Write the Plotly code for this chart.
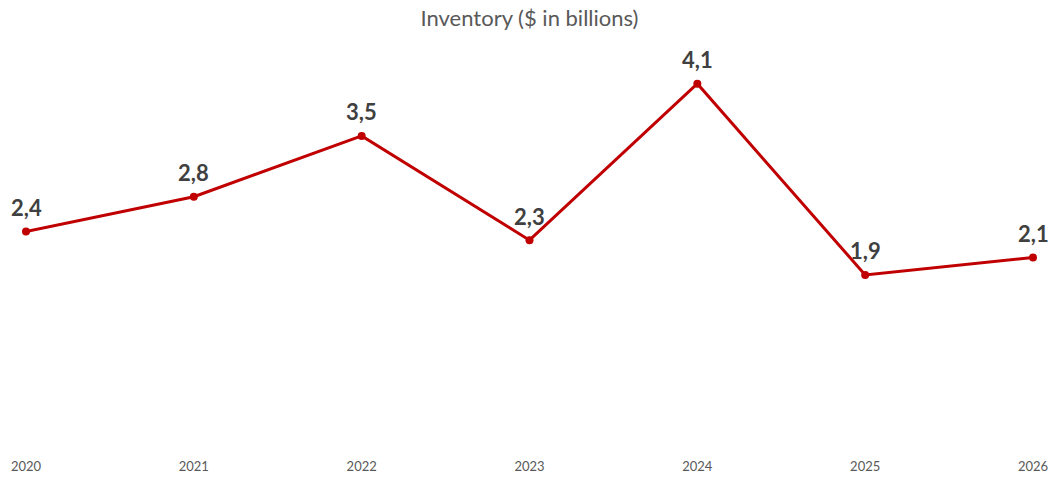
import plotly.graph_objects as go

years = [2020, 2021, 2022, 2023, 2024, 2025, 2026]
inventory = [2.4, 2.8, 3.5, 2.3, 4.1, 1.9, 2.1]
labels = [f"{v:.1f}".replace(".", ",") for v in inventory]

FONT = "Lato, 'Open Sans', sans-serif"

fig = go.Figure(
    go.Scatter(
        x=years,
        y=inventory,
        mode="lines+markers",
        line=dict(color="#C00000", width=3),
        marker=dict(color="#C00000", size=8),
        cliponaxis=False,
        hoverinfo="skip",
    )
)

# value labels above each point
for x, y, t in zip(years, inventory, labels):
    fig.add_annotation(
        x=x, y=y, text=t,
        showarrow=False,
        xanchor="center", yanchor="middle",
        yshift=24,
        font=dict(family=FONT, size=22, color="#404040", weight="bold"),
    )

fig.update_layout(
    width=1056,
    height=477,
    margin=dict(l=26, r=23, t=49, b=37, autoexpand=False),
    paper_bgcolor="white",
    plot_bgcolor="white",
    showlegend=False,
    title=dict(
        text="Inventory ($ in billions)",
        x=0.5,
        xref="paper",
        y=1 - 18 / 477,
        yref="container",
        xanchor="center",
        yanchor="middle",
        font=dict(family=FONT, size=22, color="#595959"),
    ),
    xaxis=dict(
        range=[2020, 2026],
        tickmode="array",
        tickvals=years,
        ticktext=[str(y) for y in years],
        showgrid=False,
        zeroline=False,
        showline=False,
        automargin=False,
        ticks="outside",
        ticklen=14,
        tickcolor="rgba(0,0,0,0)",
        tickfont=dict(family=FONT, size=13, color="#595959"),
    ),
    yaxis=dict(
        range=[0, 4.5],
        visible=False,
        showgrid=False,
        zeroline=False,
        automargin=False,
    ),
)

fig.write_html("out.html")
